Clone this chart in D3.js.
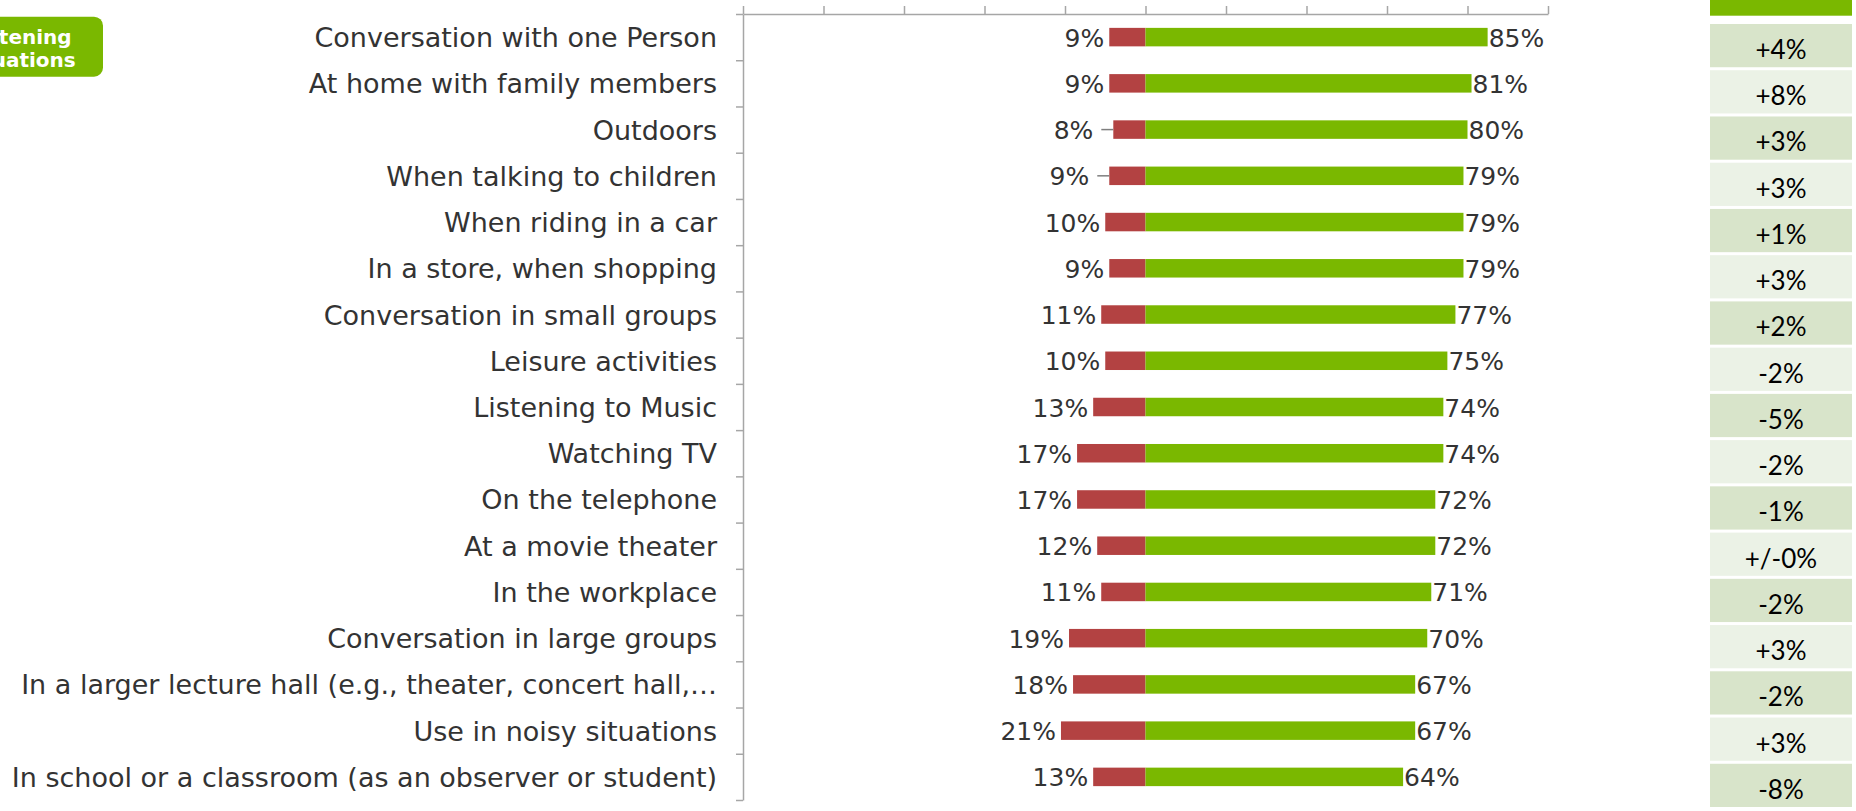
<!DOCTYPE html>
<html>
<head>
<meta charset="utf-8">
<script src="https://cdn.jsdelivr.net/npm/d3@7"></script>
<style>
  html, body { margin: 0; padding: 0; background: #ffffff; }
  svg { display: block; }
</style>
</head>
<body>
<svg id="chart" width="1856" height="811"></svg>
<script>
// Listening situations: share of satisfied (green) vs. dissatisfied (red) respondents
const categories = [
  "Conversation with one Person",
  "At home with family members",
  "Outdoors",
  "When talking to children",
  "When riding in a car",
  "In a store, when shopping",
  "Conversation in small groups",
  "Leisure activities",
  "Listening to Music",
  "Watching TV",
  "On the telephone",
  "At a movie theater",
  "In the workplace",
  "Conversation in large groups",
  "In a larger lecture hall (e.g., theater, concert hall,\u2026",
  "Use in noisy situations",
  "In school or a classroom (as an observer or student)"
];
const satisfied    = [85, 81, 80, 79, 79, 79, 77, 75, 74, 74, 72, 72, 71, 70, 67, 67, 64];
const dissatisfied = [9, 9, 8, 9, 10, 9, 11, 10, 13, 17, 17, 12, 11, 19, 18, 21, 13];
const changeLabels = ["+4%", "+8%", "+3%", "+3%", "+1%", "+3%", "+2%", "-2%", "-5%",
                      "-2%", "-1%", "+/-0%", "-2%", "+3%", "-2%", "+3%", "-8%"];
const xTicks = [-100, -80, -60, -40, -20, 0, 20, 40, 60, 80, 100];
const leaderCategories = ["Outdoors", "When talking to children"];
const boxTitle = ["Listening", "situations"];

const GREEN = "#7ab800", RED = "#b34242", AXIS = "#a6a6a6", TEXT = "#333333";

const svg = d3.select("#chart");

const plotLeft = 743, plotRight = 1548, plotTop = 14, plotBottom = 800;

const x = d3.scaleLinear().domain([-100, 100]).range([plotLeft, plotRight]);
const y = d3.scaleBand().domain(categories).range([plotTop, plotBottom]).paddingInner(0.6).paddingOuter(0.3);
const step = y.step();

// Row boundaries for the category axis ticks
const edge = d3.scaleLinear().domain([0, categories.length]).range([plotTop, plotBottom]);

// Top value axis (unlabeled ticks)
svg.append("g")
  .attr("transform", `translate(0,${plotTop})`)
  .call(d3.axisTop(x).tickValues(xTicks).tickFormat("").tickSize(8).tickSizeOuter(0))
  .call(g => g.selectAll("path,line").attr("stroke", AXIS).attr("stroke-width", 1.5));

// Left category axis with ticks between rows
svg.append("g")
  .attr("transform", `translate(${plotLeft},0)`)
  .call(d3.axisLeft(edge).tickValues(d3.range(categories.length + 1)).tickFormat("").tickSize(7).tickSizeOuter(0))
  .call(g => g.selectAll("path,line").attr("stroke", AXIS).attr("stroke-width", 1.5));

// Category labels
svg.append("g").selectAll("text")
  .data(categories)
  .join("text")
  .attr("x", plotLeft - 26)
  .attr("y", d => y(d) + y.bandwidth() / 2 + 10)
  .attr("text-anchor", "end")
  .attr("font-family", "DejaVu Sans, Verdana, sans-serif")
  .attr("font-size", 27)
  .attr("fill", TEXT)
  .text(d => d);

const rows = categories.map((c, i) => ({ c, pos: satisfied[i], neg: dissatisfied[i] }));

// Dissatisfied bars (to the left of zero)
svg.append("g").selectAll("rect")
  .data(rows)
  .join("rect")
  .attr("x", d => x(-d.neg))
  .attr("y", d => y(d.c))
  .attr("width", d => x(0) - x(-d.neg))
  .attr("height", y.bandwidth())
  .attr("fill", RED);

// Satisfied bars (to the right of zero)
svg.append("g").selectAll("rect")
  .data(rows)
  .join("rect")
  .attr("x", x(0))
  .attr("y", d => y(d.c))
  .attr("width", d => x(d.pos) - x(0))
  .attr("height", y.bandwidth())
  .attr("fill", GREEN);

// Leader lines for displaced labels
svg.append("g").selectAll("line")
  .data(rows.filter(d => leaderCategories.includes(d.c)))
  .join("line")
  .attr("x1", d => x(-d.neg) - 12)
  .attr("x2", d => x(-d.neg))
  .attr("y1", d => y(d.c) + y.bandwidth() / 2)
  .attr("y2", d => y(d.c) + y.bandwidth() / 2)
  .attr("stroke", "#7f7f7f")
  .attr("stroke-width", 1.5);

// Value labels
const valueFont = { family: "DejaVu Sans, Verdana, sans-serif", size: 25 };
svg.append("g").selectAll("text")
  .data(rows)
  .join("text")
  .attr("x", d => x(-d.neg) - (leaderCategories.includes(d.c) ? 20 : 5))
  .attr("y", d => y(d.c) + y.bandwidth() / 2 + 9.5)
  .attr("text-anchor", "end")
  .attr("font-family", valueFont.family)
  .attr("font-size", valueFont.size)
  .attr("fill", TEXT)
  .text(d => d.neg + "%");

svg.append("g").selectAll("text")
  .data(rows)
  .join("text")
  .attr("x", d => x(d.pos) + 1)
  .attr("y", d => y(d.c) + y.bandwidth() / 2 + 9.5)
  .attr("text-anchor", "start")
  .attr("font-family", valueFont.family)
  .attr("font-size", valueFont.size)
  .attr("fill", TEXT)
  .text(d => d.pos + "%");

// Change column on the right
const colLeft = 1710, colRight = 1852;
svg.append("rect")
  .attr("x", colLeft).attr("y", -10)
  .attr("width", colRight - colLeft).attr("height", 25.7)
  .attr("fill", GREEN);

const cells = svg.append("g").selectAll("g")
  .data(categories)
  .join("g")
  .attr("transform", d => `translate(0,${y(d) - (step - y.bandwidth()) / 2 + 10})`);

cells.append("rect")
  .attr("x", colLeft)
  .attr("y", 0)
  .attr("width", colRight - colLeft)
  .attr("height", step - 3)
  .attr("fill", (d, i) => i % 2 === 0 ? "#d8e4ca" : "#ebf2e6");

cells.append("text")
  .attr("x", (colLeft + colRight) / 2)
  .attr("y", 35)
  .attr("text-anchor", "middle")
  .attr("font-family", "Lato, 'Open Sans', sans-serif")
  .attr("font-size", 26)
  .attr("fill", "#000000")
  .text((d, i) => changeLabels[i]);

// Section badge at top left
const badge = svg.append("g");
badge.append("rect")
  .attr("x", -64).attr("y", 16.7)
  .attr("width", 167).attr("height", 60)
  .attr("rx", 9).attr("ry", 9)
  .attr("fill", GREEN);
badge.append("text")
  .attr("text-anchor", "middle")
  .attr("font-family", "DejaVu Sans, Verdana, sans-serif")
  .attr("font-weight", "bold")
  .attr("font-size", 20)
  .attr("fill", "#ffffff")
  .selectAll("tspan")
  .data(boxTitle)
  .join("tspan")
  .attr("x", 19.5)
  .attr("y", (d, i) => 44 + i * 23)
  .text(d => d);
</script>
</body>
</html>
